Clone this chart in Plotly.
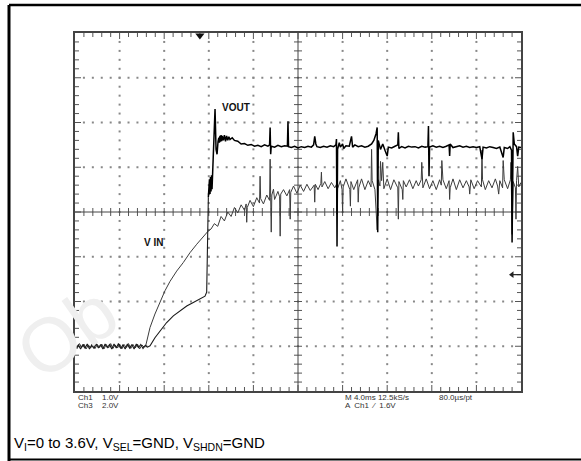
import plotly.graph_objects as go

# ---------------- data (time in ms, volts; Ch1 scale 1 V/div) ----------------
VIN_T_A = [0.0, 0.2, 0.4, 0.6, 0.8, 1.0, 1.2, 1.4, 1.6, 1.8, 2.0, 2.2, 2.4, 2.6, 2.8, 3.0,
           3.2, 3.4, 3.6, 3.8, 4.0, 4.2, 4.4, 4.6, 4.8, 5.0, 5.2, 5.4, 5.6, 5.8, 6.0, 6.2,
           6.35, 6.73, 7.17, 7.62, 8.07, 8.52, 9.12, 9.71, 10.31, 10.92, 11.51, 11.93,
           12.2, 12.5, 12.8, 13.1, 13.4, 13.7, 14.0, 14.3, 14.6, 14.9,
           15.2, 15.35, 15.4, 15.45, 15.7, 16.0, 16.3, 16.55, 16.6, 16.65,
           16.9, 17.2, 17.45, 17.5, 17.55, 17.6, 17.65, 17.8, 17.9, 18.2,
           18.35, 18.4, 18.45, 18.7, 19.0, 19.25, 19.3, 19.35, 19.6, 19.9,
           20.2, 20.5, 20.8, 21.1, 21.45, 21.5, 21.55, 21.8, 22.05, 22.1,
           22.15, 22.4, 22.7, 23.0, 23.3, 23.45]
VIN_V_A = [0.04, -0.05, 0.06, -0.03, 0.05, -0.06, 0.03, -0.04, 0.06, -0.05, 0.04, -0.03,
           0.05, -0.06, 0.04, -0.04, 0.06, -0.05, 0.03, -0.04, 0.05, -0.06, 0.04, -0.03,
           0.06, -0.05, 0.04, -0.04, 0.05, -0.06, 0.03, -0.02,
           0.02, 0.42, 0.72, 0.98, 1.24, 1.45, 1.68, 1.87, 2.09, 2.28, 2.45, 2.57,
           2.62, 2.74, 2.68, 2.90, 2.80, 3.00, 2.90, 3.10, 2.98, 3.16,
           3.04, 3.18, 2.77, 3.10, 3.26, 3.12, 3.32, 3.20, 3.80, 3.30,
           3.18, 3.38, 3.26, 4.18, 3.33, 2.55, 3.38, 3.51, 3.28, 3.46,
           3.34, 2.46, 3.40, 3.50, 3.36, 3.50, 2.84, 3.44, 3.58, 3.42,
           3.60, 3.46, 3.62, 3.48, 3.60, 3.22, 3.62, 3.50, 3.64, 3.89,
           3.56, 3.68, 3.52, 3.66, 3.54, 3.62]
VIN_T_B = [23.5, 23.55, 23.8, 23.95, 24.0, 24.05, 24.3, 24.65, 24.7, 24.75,
           25.0, 25.35, 25.4, 25.45, 25.7, 26.0, 26.3, 26.55, 26.6, 26.65,
           26.9, 27.1, 27.2, 27.35, 27.4, 27.5, 27.6, 27.7, 28.0, 28.3,
           28.6, 28.95, 29.0, 29.05, 29.35, 29.4, 29.45, 29.7, 30.0, 30.3,
           30.6, 30.8, 31.05, 31.1, 31.2, 31.5, 31.8, 32.1, 32.4, 32.7,
           32.85, 32.9, 33.0, 33.3, 33.55, 33.6, 33.65, 33.9, 34.2, 34.5,
           34.8, 35.1, 35.35, 35.4, 35.5, 35.8, 36.1, 36.45, 36.5, 36.55,
           36.8, 37.1, 37.4, 37.7, 37.9, 38.0, 38.1, 38.35, 38.4, 38.5,
           38.8, 39.05, 39.1, 39.15, 39.2, 39.3, 39.5, 39.55, 39.6, 39.7,
           39.8, 40.0]
VIN_V_B = [2.95, 3.52, 3.70, 3.50, 2.99, 3.56, 3.74, 3.50, 3.13, 3.68,
           3.50, 3.72, 3.22, 3.54, 3.74, 3.50, 3.70, 3.56, 4.40, 3.70,
           3.50, 2.60, 3.72, 3.58, 4.13, 3.70, 4.11, 3.52, 3.74, 3.50,
           3.72, 3.54, 2.84, 3.68, 3.50, 3.28, 3.70, 3.56, 3.72, 3.52,
           3.70, 3.58, 3.72, 4.11, 3.54, 3.74, 3.52, 3.70, 3.50, 3.72,
           3.60, 4.15, 3.72, 3.52, 3.70, 3.28, 3.54, 3.74, 3.50, 3.72,
           3.54, 3.70, 3.56, 3.40, 3.72, 3.52, 3.70, 3.56, 4.38, 3.72,
           3.50, 3.70, 3.54, 3.74, 3.58, 3.40, 3.70, 3.54, 4.15, 3.72,
           3.52, 3.72, 4.11, 3.56, 2.50, 3.68, 3.54, 2.84, 3.70, 4.02,
           3.56, 3.66]

VOUT_T = [0.1, 0.3, 0.5, 0.7, 0.9, 1.1, 1.3, 1.5, 1.7, 1.9, 2.1, 2.3, 2.5, 2.7, 2.9, 3.1,
          3.3, 3.5, 3.7, 3.9, 4.1, 4.3, 4.5, 4.7, 4.9, 5.1, 5.3, 5.5, 5.7, 5.9, 6.1, 6.3,
          6.5, 6.73, 7.17, 7.62, 8.22, 8.82, 9.42, 10.02, 10.61, 11.21, 11.66, 11.81,
          11.87, 11.90, 11.96, 12.02, 12.06, 12.11, 12.15, 12.20, 12.24, 12.29, 12.38,
          12.47, 12.56, 12.65, 12.74, 12.83, 12.9, 12.95, 13.0, 13.05, 13.1, 13.15, 13.2,
          13.3, 13.4, 13.5, 13.6, 13.7, 13.8, 13.9, 14.1, 14.3, 14.6, 14.9, 15.2, 15.5,
          15.8, 16.1, 16.4, 16.7, 17.0, 17.3, 17.45, 17.5, 17.55, 17.6, 17.9, 18.2, 18.5,
          18.8, 19.05, 19.1, 19.15, 19.4, 19.7, 20.0, 20.3, 20.6, 20.9, 21.2, 21.4, 21.5,
          21.6, 21.7, 22.0, 22.3, 22.6, 22.9, 23.2, 23.4, 23.45, 23.5, 23.55, 23.7, 23.8,
          24.0, 24.1, 24.3, 24.6, 24.8, 24.9, 25.1, 25.4, 25.7, 26.0, 26.3, 26.6, 26.8,
          27.0, 27.1, 27.15, 27.2, 27.4, 27.6, 27.8, 28.0, 28.1, 28.4, 28.7, 28.95, 29.0,
          29.05, 29.3, 29.6, 29.9, 30.2, 30.5, 30.8, 31.1, 31.4, 31.65, 31.7, 31.75, 31.8,
          32.1, 32.4, 32.7, 33.0, 33.3, 33.55, 33.6, 33.65, 33.9, 34.2, 34.5, 34.8, 35.1,
          35.4, 35.7, 36.0, 36.3, 36.5, 36.6, 36.9, 37.2, 37.5, 37.8, 38.1, 38.4, 38.5,
          38.8, 39.0, 39.15, 39.2, 39.25, 39.3, 39.4, 39.6, 39.7, 39.8, 40.0]
VOUT_V = [-0.05, 0.03, -0.06, 0.04, -0.04, 0.05, -0.06, 0.03, -0.05, 0.06, -0.04, 0.04,
          -0.06, 0.05, -0.03, 0.04, -0.06, 0.05, -0.04, 0.06, -0.05, 0.03, -0.06, 0.05,
          -0.04, 0.04, -0.06, 0.05, -0.03, 0.04, -0.05, 0.02,
          -0.02, 0.01, 0.19, 0.34, 0.53, 0.68, 0.79, 0.90, 0.98, 1.05, 1.12, 1.21,
          1.94, 2.73, 3.33, 3.51, 3.73, 3.40, 3.78, 3.46, 3.82, 3.51, 4.29,
          4.85, 5.30, 4.40, 4.29, 4.58, 4.66, 4.55, 4.70, 4.57, 4.72, 4.58, 4.70,
          4.60, 4.72, 4.58, 4.70, 4.60, 4.68, 4.62, 4.66, 4.60, 4.58, 4.52, 4.53, 4.49,
          4.51, 4.47, 4.49, 4.46, 4.50, 4.47, 4.50, 4.89, 4.29, 4.47, 4.45, 4.49, 4.46,
          4.48, 4.47, 5.03, 4.46, 4.44, 4.47, 4.43, 4.46, 4.44, 4.47, 4.45, 4.50, 4.69,
          4.52, 4.46, 4.44, 4.47, 4.45, 4.48, 4.46, 4.50, 4.63, 2.23, 4.40, 4.55, 4.45,
          4.52, 4.42, 4.48, 4.47, 4.69, 4.45, 4.50, 4.46, 4.48, 4.45, 4.47, 4.52, 4.60,
          4.75, 4.89, 2.55, 4.60, 4.40, 4.52, 4.38, 4.25, 4.45, 4.43, 4.47, 4.50, 4.78,
          4.42, 4.46, 4.43, 4.47, 4.45, 4.46, 4.43, 4.47, 4.45, 4.46, 4.92, 3.80, 4.45,
          4.48, 4.45, 4.47, 4.44, 4.47, 4.50, 4.25, 4.52, 4.44, 4.46, 4.48, 4.45, 4.47,
          4.44, 4.46, 4.44, 4.46, 4.18, 4.45, 4.43, 4.46, 4.44, 4.42, 4.45, 4.22, 4.44,
          4.42, 4.46, 4.38, 2.32, 4.55, 4.78, 4.52, 4.46, 4.25, 4.45, 4.44]
VOUT_SPLIT_T = 11.96   # end of the slow ramp, start of the noisy regulated part

TRACE_LABELS = ["VOUT", "V IN"]
CH_TEXT = ["Ch1", "1.0V", "Ch3", "2.0V"]
HORIZ_TEXT = ["M 4.0ms 12.5kS/s", "80.0µs/pt", "A  Ch1  ⁄  1.6V"]
CAPTION = "V<sub>I</sub>=0 to 3.6V, V<sub>SEL</sub>=GND, V<sub>SHDN</sub>=GND"
WATERMARK = "Ob"
TRIG_TIME = 11.2   # ms, trigger position marker
TRIG_LEVEL = 1.6   # V

assert len(VIN_T_A) == len(VIN_V_A) and len(VIN_T_B) == len(VIN_V_B)
assert len(VOUT_T) == len(VOUT_V)
VIN_T = VIN_T_A + VIN_T_B
VIN_V = VIN_V_A + VIN_V_B
k = VOUT_T.index(VOUT_SPLIT_T)

# ---------------- geometry ----------------
W, H = 581, 461
X0, X1, Y0, Y1 = 75, 521, 33, 391          # scope graticule in pixels
XR = [0, 40]                                # 10 div x 4 ms
YR = [-1, 7]                                # 8 div x 1 V
MSPX = (XR[1] - XR[0]) / (X1 - X0)
VPX = (YR[1] - YR[0]) / (Y1 - Y0)
XDIV = 4.0
YDIV = 1.0


def px(x):
    return x / W


def py(y):
    return 1 - y / H


fig = go.Figure()

# graticule dots
gx, gy = [], []
for i in range(1, 10):
    if i == 5:
        continue
    for j in range(1, 40):
        gx.append(XR[0] + i * XDIV)
        gy.append(YR[0] + j * YDIV / 5)
for j in range(1, 8):
    if j == 4:
        continue
    for i in range(1, 50):
        gx.append(XR[0] + i * XDIV / 5)
        gy.append(YR[0] + j * YDIV)
fig.add_trace(go.Scatter(x=gx, y=gy, mode="markers", hoverinfo="skip",
                         marker=dict(size=2, color="#888", symbol="square", line=dict(width=0))))

# tick marks: centre cross and edges
tx, ty = [], []
xc = XR[0] + 5 * XDIV
yc = YR[0] + 4 * YDIV
for i in range(1, 50):
    x = XR[0] + i * XDIV / 5
    L = 4 * VPX
    tx += [x, x, None]; ty += [yc - L, yc + L, None]
    Le = (6 if i % 5 == 0 else 4) * VPX
    tx += [x, x, None]; ty += [YR[0], YR[0] + Le, None]
    tx += [x, x, None]; ty += [YR[1], YR[1] - Le, None]
for j in range(1, 40):
    y = YR[0] + j * YDIV / 5
    L = 4 * MSPX
    tx += [xc - L, xc + L, None]; ty += [y, y, None]
    Le = (6 if j % 5 == 0 else 4) * MSPX
    tx += [XR[0], XR[0] + Le, None]; ty += [y, y, None]
    tx += [XR[1], XR[1] - Le, None]; ty += [y, y, None]
fig.add_trace(go.Scatter(x=tx, y=ty, mode="lines", hoverinfo="skip",
                         line=dict(color="#555", width=1)))
# centre cross
fig.add_trace(go.Scatter(x=[XR[0], XR[1], None, xc, xc], y=[yc, yc, None, YR[0], YR[1]],
                         mode="lines", hoverinfo="skip", line=dict(color="#444", width=1)))

# waveforms
fig.add_trace(go.Scatter(x=VIN_T, y=VIN_V, mode="lines", name="VIN",
                         line=dict(color="#3c3c3c", width=1)))
fig.add_trace(go.Scatter(x=VOUT_T[:k + 1], y=VOUT_V[:k + 1], mode="lines", name="VOUT",
                         line=dict(color="#1a1a1a", width=1.1)))
fig.add_trace(go.Scatter(x=VOUT_T[k:], y=VOUT_V[k:], mode="lines", name="VOUT",
                         line=dict(color="#000", width=1.5)))

# trigger markers
fig.add_trace(go.Scatter(x=[TRIG_TIME], y=[YR[1] - 2.5 * VPX], mode="markers", hoverinfo="skip",
                         marker=dict(symbol="triangle-down", size=8, color="#111")))
fig.add_trace(go.Scatter(x=[XR[1] - 9 * MSPX, XR[1]], y=[TRIG_LEVEL, TRIG_LEVEL], mode="lines",
                         hoverinfo="skip", line=dict(color="#222", width=1.2)))
fig.add_trace(go.Scatter(x=[XR[1] - 9 * MSPX], y=[TRIG_LEVEL], mode="markers", hoverinfo="skip",
                         marker=dict(symbol="triangle-left", size=6, color="#222")))

ax = dict(range=XR, showgrid=False, zeroline=False, showticklabels=False, ticks="",
          showline=True, mirror=True, linecolor="#444", linewidth=1.5, fixedrange=True)
fig.update_xaxes(**ax, domain=[px(X0), px(X1)])
ay = dict(ax); ay["range"] = YR
fig.update_yaxes(**ay, domain=[py(Y1), py(Y0)])

ann = []
# faint watermark fragment
ann.append(dict(xref="paper", yref="paper", x=px(66), y=py(332), text=WATERMARK,
                showarrow=False, textangle=-35, xanchor="center", yanchor="middle",
                font=dict(family="Arial", size=76, color="#efefef")))

for (t, x, y) in [(TRACE_LABELS[0], 236, 107), (TRACE_LABELS[1], 153, 243)]:
    ann.append(dict(xref="paper", yref="paper", x=px(x), y=py(y), text="<b>" + t + "</b>",
                    showarrow=False, xanchor="center", yanchor="middle",
                    font=dict(family="Arial", size=10, color="#111")))

small = dict(family="Arial", size=8, color="#333")
for (t, x, y) in [(CH_TEXT[0], 76, 397), (CH_TEXT[1], 100, 397), (CH_TEXT[2], 76, 405.5),
                  (CH_TEXT[3], 100, 405.5), (HORIZ_TEXT[0], 343, 397), (HORIZ_TEXT[1], 437, 397),
                  (HORIZ_TEXT[2], 343, 405.5)]:
    ann.append(dict(xref="paper", yref="paper", x=px(x), y=py(y), text=t, showarrow=False,
                    xanchor="left", yanchor="middle", font=small))

ann.append(dict(xref="paper", yref="paper", x=px(12), y=py(443), text=CAPTION, showarrow=False,
                xanchor="left", yanchor="middle",
                font=dict(family="Arial", size=15, color="#000")))

fig.update_layout(annotations=ann)

# outer frame
shapes = [
    dict(type="line", xref="paper", yref="paper", x0=px(9), x1=1, y0=py(5), y1=py(5),
         line=dict(color="#000", width=2.5)),
    dict(type="line", xref="paper", yref="paper", x0=px(9), x1=px(9), y0=py(5), y1=0,
         line=dict(color="#000", width=3)),
    dict(type="line", xref="paper", yref="paper", x0=px(9), x1=1, y0=py(459.5), y1=py(459.5),
         line=dict(color="#000", width=2)),
]
fig.update_layout(shapes=shapes)

fig.update_layout(width=W, height=H, margin=dict(l=0, r=0, t=0, b=0),
                  paper_bgcolor="white", plot_bgcolor="white", showlegend=False)

fig.write_html("out.html", config={"displayModeBar": False},
               post_script="document.body.style.margin='0px';document.body.style.overflow='hidden';")
